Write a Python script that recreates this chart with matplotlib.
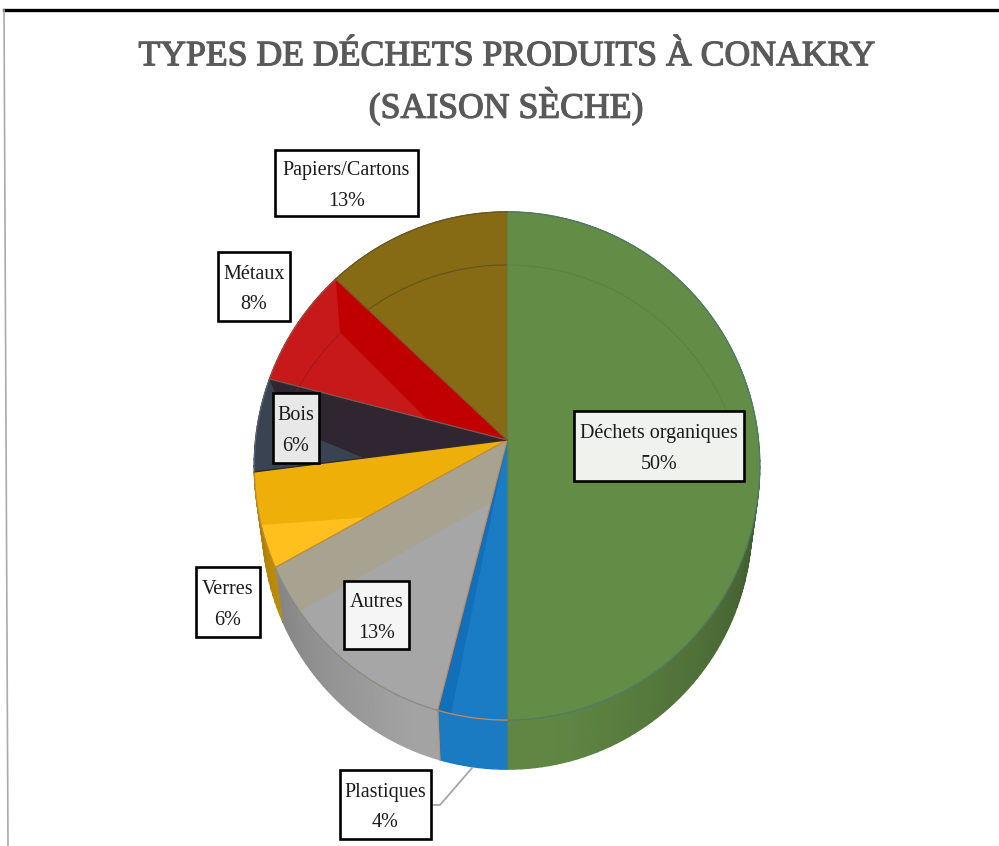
import numpy as np
import matplotlib
matplotlib.use('Agg')
import matplotlib.pyplot as plt
import matplotlib.patheffects as pe
from matplotlib.patches import Polygon, Rectangle

title = 'TYPES DE DÉCHETS PRODUITS À CONAKRY\n(SAISON SÈCHE)'
labels = ['Déchets organiques', 'Plastiques', 'Autres', 'Verres', 'Bois', 'Métaux', 'Papiers/Cartons']
values = [50, 4, 13, 6, 6, 8, 13]
colors = ['#638c46', '#1b7cc6', '#a6a6a6', '#eeb008', '#2f2631', '#c8191a', '#866a14']
rims = ['#4f7c68', '#c98a55', '#8a8a80', '#c08a30', '#5a6470', '#a04a3a', '#6a5a20']
spokes = ['#5f7f50', '#4f7c68', '#c98a55', '#c08a30', '#2a2a30', '#7a5a50', '#7a5a30']

# label boxes, left/right/top/bottom in pixels
boxes = [(574, 744, 411, 481), (340, 431, 770, 839), (344, 409, 581, 649), (196, 260, 567, 637),
         (273, 319, 393, 463), (218, 290, 252, 321), (275, 418, 150, 216)]
box_fill = ['#f0f2ee', 'white', '#f5f5f5', 'white', '#e8e8e8', 'white', 'white']

# perspective of the tilted disc
CX, C = 507, 0.1024
TOP = dict(y0=440, b=251.4)
BOTTOM = dict(y0=498, b=243.4)
RING = dict(y0=480.4, b=237.5)


def project(theta, r=1.0, y0=440, b=251.4):
    theta = np.radians(theta)
    u, v = r*np.sin(theta), r*np.cos(theta)
    w = 1 + C*v
    return np.column_stack([CX + b*u/w, y0 - b*v/w])


def arc(a, b, r=1.0, level=TOP):
    return project(np.linspace(a, b, 80), r, **level)


def shade(col, f):
    return tuple(min(1, c*f) for c in matplotlib.colors.to_rgb(col))


def wall_factor(t):
    # side wall goes dark towards the right and left ends
    if t < 180:
        return 0.62 + 0.34*np.clip((t-95)/75, 0, 1)
    return 0.98 - 0.30*np.clip((t-200)/70, 0, 1)


fig = plt.figure(figsize=(9.99, 8.46), dpi=100)
ax = fig.add_axes([0, 0, 1, 1])
ax.set_xlim(0, 999)
ax.set_ylim(846, 0)
ax.axis('off')

cum = np.concatenate([[0], np.cumsum(values)]) * 3.6
spans = list(zip(cum[:-1], cum[1:]))

# side wall, small strips so the shading runs along it
for (a, b), col in zip(spans, colors):
    ts = np.arange(a, b + 1.5, 1.5)
    ts[-1] = b
    for t0, t1 in zip(ts[:-1], ts[1:]):
        pts = np.vstack([project(np.array([t0, t1]), **TOP), project(np.array([t1, t0]), **BOTTOM)])
        c = shade(col, wall_factor((t0+t1)/2))
        ax.add_patch(Polygon(pts, fc=c, ec=c, lw=1.0, zorder=1))

apex = np.array([[CX, TOP['y0']]])

# top face
for (a, b), col in zip(spans, colors):
    ax.add_patch(Polygon(np.vstack([apex, arc(a, b)]), fc=col, ec='none', zorder=2))

# faint inner ring
ring = arc(318, 360, level=RING)
ax.plot(ring[:, 0], ring[:, 1], color='#3e3f1c', lw=0.8, alpha=0.5, zorder=3)
ring = arc(0, 75, level=RING)
ax.plot(ring[:, 0], ring[:, 1], color='#3e5f2c', lw=0.8, alpha=0.2, zorder=3)
ring = arc(287, 318, level=RING)
ax.plot(ring[:, 0], ring[:, 1], color='#8a1a1a', lw=0.8, alpha=0.6, zorder=3)


def facet(i, pts, col):
    # pts are (fraction across the slice, radius)
    a, b = spans[i]
    xy = np.vstack([project(np.array([a + f*(b-a)]), r, **TOP) for f, r in pts])
    ax.add_patch(Polygon(xy, fc=col, ec='none', zorder=4))


facet(1, [(0, 0), (1, 1), (0.8, 1)], '#1270bb')
facet(2, [(0, 0), (1, 0), (1, 1), (0.77, 1), (0.0, 0.25)], '#a8a290')
facet(3, [(0, 1), (0.45, 1), (0.0, 0.62)], '#ffc01e')
facet(4, [(0, 1), (0.25, 1), (0.5, 1), (0.75, 1), (1, 1), (0.79, 0.94), (0.33, 0.74), (0, 0.57)], '#394352')
facet(5, [(0, 0), (1, 0), (1, 1), (0.64, 0.827), (0, 0.33)], '#c00000')

# slice edges and rim
for (a, b), rim_col, spoke in zip(spans, rims, spokes):
    p = project(np.array([a]))
    ax.plot([CX, p[0, 0]], [TOP['y0'], p[0, 1]], color=spoke, lw=0.9, zorder=5)
    rim = arc(a, b)
    ax.plot(rim[:, 0], rim[:, 1], color=rim_col, lw=0.9, zorder=5)
    if 90 < b < 270:
        p = np.vstack([project(np.array([b]), **TOP), project(np.array([b]), **BOTTOM)])
        ax.plot(p[:, 0], p[:, 1], color=rim_col, lw=0.8, alpha=0.7, zorder=1.5)

# leader line for Plastiques
ax.plot([431, 440, 472], [805, 805, 768], color='#a6a6a6', lw=1.3, zorder=3)

# labels
for name, v, (l, r, t, bt), fill in zip(labels, values, boxes, box_fill):
    ax.add_patch(Rectangle((l, t), r-l, bt-t, fc=fill, ec='black', lw=1.9, zorder=6))
    ax.text((l+r)/2, (t+bt)/2 + 3, '%s\n%d%%' % (name, v), ha='center', va='center',
            family='Liberation Serif', fontsize=14.5, color='#1a1a1a', linespacing=1.8, zorder=7)

t = ax.text(506, 83, title, ha='center', va='center', family='Liberation Serif',
            fontsize=25.7, color='#595959', linespacing=1.45)
t.set_path_effects([pe.withStroke(linewidth=0.9, foreground='#595959')])

# frame of the screenshot
ax.plot([4, 999], [10, 10], color='black', lw=2.4, zorder=8)
ax.plot([4, 8], [10, 846], color='#aaaaaa', lw=1.2, zorder=8)

fig.savefig('out.png', dpi=100)
